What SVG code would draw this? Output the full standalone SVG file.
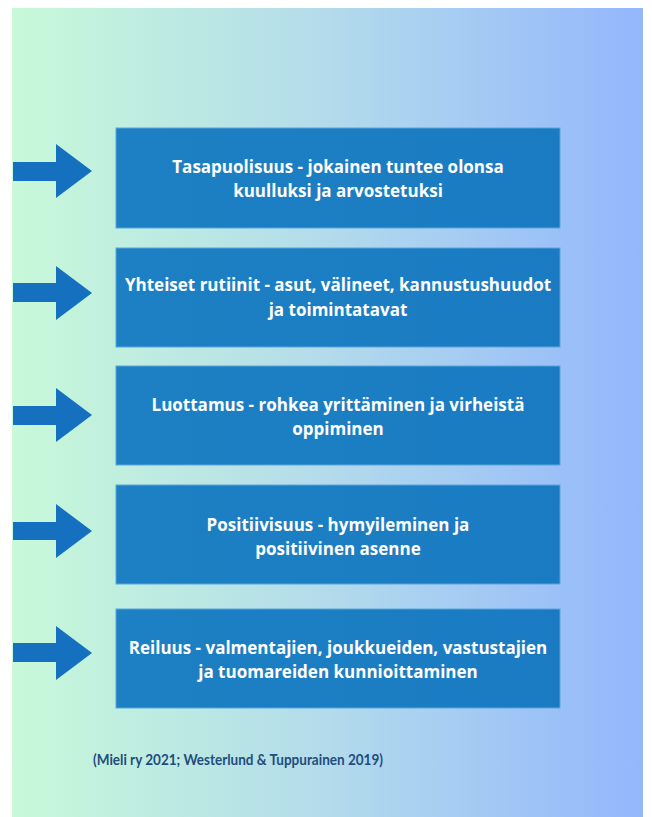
<svg xmlns="http://www.w3.org/2000/svg" width="652" height="817" viewBox="0 0 652 817">
<defs>
<linearGradient id="bg" x1="0" y1="0" x2="1" y2="0">
<stop offset="0" stop-color="#c8f9d9"/>
<stop offset="0.5" stop-color="#b3dbeb"/>
<stop offset="1" stop-color="#93b7fc"/>
</linearGradient>
<linearGradient id="boxg" x1="0" y1="0" x2="1" y2="0">
<stop offset="0" stop-color="#1d80c3"/>
<stop offset="1" stop-color="#1a7bc2"/>
</linearGradient>
</defs>
<style>
.box{fill:url(#boxg);stroke:#5aa6dc;stroke-width:1}
.arrow{fill:#1570bf}
.t{font-family:"Open Sans",Lato,"DejaVu Sans",sans-serif;font-weight:700;font-size:17px;fill:#ffffff;text-anchor:middle}
.cite{font-family:Lato,"Open Sans","DejaVu Sans",sans-serif;font-weight:700;font-size:15px;fill:#1f4d7e}
</style>
<rect x="0" y="0" width="652" height="817" fill="#ffffff"/>
<rect x="12" y="8" width="631" height="809" fill="url(#bg)"/>
<g id="connectors">
<polygon class="arrow" points="13,162 56,162 56,144 92,171 56,198 56,181 13,181"/>
<polygon class="arrow" points="13,283 56,283 56,266 92,293 56,320 56,302 13,302"/>
<polygon class="arrow" points="13,406 56,406 56,388 92,415 56,442 56,425 13,425"/>
<polygon class="arrow" points="13,522 56,522 56,504 92,531 56,558 56,540 13,540"/>
<polygon class="arrow" points="13,643 56,643 56,626 92,653 56,680 56,662 13,662"/>
</g>
<g id="node1">
<rect class="box" x="116" y="128" width="444" height="100"/>
<text class="t" x="338" y="173">Tasapuolisuus - jokainen tuntee olonsa</text>
<text class="t" x="338" y="197">kuulluksi ja arvostetuksi</text>
</g>
<g id="node2">
<rect class="box" x="116" y="248" width="444" height="99"/>
<text class="t" x="338" y="291">Yhteiset rutiinit - asut, välineet, kannustushuudot</text>
<text class="t" x="338" y="316">ja toimintatavat</text>
</g>
<g id="node3">
<rect class="box" x="116" y="366" width="444" height="99"/>
<text class="t" x="338" y="411">Luottamus - rohkea yrittäminen ja virheistä</text>
<text class="t" x="338" y="435">oppiminen</text>
</g>
<g id="node4">
<rect class="box" x="116" y="485" width="444" height="99"/>
<text class="t" x="338" y="531">Positiivisuus - hymyileminen ja</text>
<text class="t" x="338" y="555">positiivinen asenne</text>
</g>
<g id="node5">
<rect class="box" x="116" y="609" width="444" height="99"/>
<text class="t" x="338" y="654">Reiluus - valmentajien, joukkueiden, vastustajien</text>
<text class="t" x="338" y="678">ja tuomareiden kunnioittaminen</text>
</g>
<g id="citation">
<text class="cite" x="93" y="765" textLength="290" lengthAdjust="spacingAndGlyphs">(Mieli ry 2021; Westerlund &amp; Tuppurainen 2019)</text>
</g>
</svg>
